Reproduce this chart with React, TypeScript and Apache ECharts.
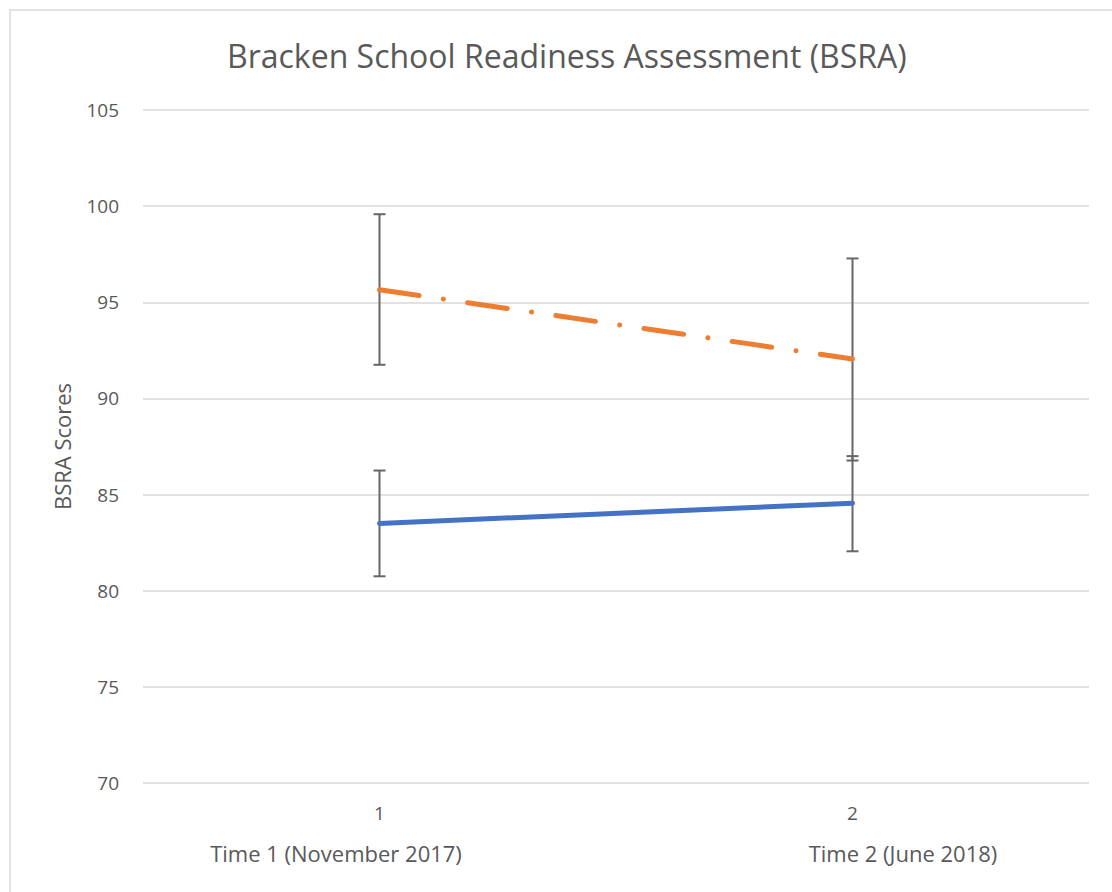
import React, { useEffect, useRef } from "react";
import * as echarts from "echarts";

const categories = ["1", "2"];
const timeLabels = ["Time 1 (November 2017)", "Time 2 (June 2018)"];
const blueMeans = [83.5, 84.55];
const blueLow = [80.75, 82.05];
const blueHigh = [86.25, 87.0];
const orangeMeans = [95.65, 92.05];
const orangeLow = [91.75, 86.77];
const orangeHigh = [99.58, 97.28];
const yTicks = { min: 70, max: 105, interval: 5 };

const FONT = "'Open Sans', 'Noto Sans', sans-serif";
const TEXT = "#595959";

export default function App() {
  const ref = useRef<HTMLDivElement>(null);
  useEffect(() => {
    document.body.style.margin = "0";
    if (!ref.current) return;
    const chart = echarts.init(ref.current, null, { renderer: "svg" });
    const errData = [
      ...categories.map((_, i) => [i, blueLow[i], blueHigh[i]]),
      ...categories.map((_, i) => [i, orangeLow[i], orangeHigh[i]]),
    ];
    chart.setOption({
      animation: false,
      backgroundColor: "#ffffff",
      title: {
        text: "Bracken School Readiness Assessment (BSRA)",
        left: 222,
        top: 34,
        textStyle: { fontFamily: FONT, fontSize: 32, fontWeight: "normal", color: TEXT },
      },
      grid: { left: 143, right: 23, top: 110, bottom: 109 },
      xAxis: {
        type: "category",
        data: categories,
        boundaryGap: true,
        axisLine: { show: false },
        axisTick: { show: false },
        axisLabel: { fontFamily: FONT, fontSize: 19, color: TEXT, margin: 20 },
      },
      yAxis: {
        type: "value",
        min: yTicks.min,
        max: yTicks.max,
        interval: yTicks.interval,
        name: "BSRA Scores",
        nameLocation: "middle",
        nameRotate: 90,
        nameGap: 70,
        nameTextStyle: { fontFamily: FONT, fontSize: 22, color: TEXT },
        axisLine: { show: false },
        axisTick: { show: false },
        axisLabel: { fontFamily: FONT, fontSize: 19, color: TEXT, margin: 24 },
        splitLine: { lineStyle: { color: "#d9d9d9", width: 1.5 } },
      },
      graphic: [
        {
          type: "rect",
          shape: { x: 10, y: 10, width: 1200, height: 1000 },
          style: { fill: "none", stroke: "#d9d9d9", lineWidth: 1.5 },
          silent: true,
        },
        {
          type: "text",
          x: 336,
          y: 853,
          style: { text: timeLabels[0], fontFamily: FONT, fontSize: 22, fill: TEXT, align: "center", verticalAlign: "middle" },
        },
        {
          type: "text",
          x: 903,
          y: 853,
          style: { text: timeLabels[1], fontFamily: FONT, fontSize: 22, fill: TEXT, align: "center", verticalAlign: "middle" },
        },
      ],
      series: [
        {
          type: "custom",
          z: 1,
          data: errData,
          renderItem: (params: any, api: any) => {
            const x = api.value(0);
            const lo = api.coord([x, api.value(1)]);
            const hi = api.coord([x, api.value(2)]);
            const w = 6;
            const style = { stroke: "#666666", lineWidth: 2 };
            return {
              type: "group",
              children: [
                { type: "line", shape: { x1: lo[0], y1: lo[1], x2: hi[0], y2: hi[1] }, style },
                { type: "line", shape: { x1: lo[0] - w, y1: lo[1], x2: lo[0] + w, y2: lo[1] }, style },
                { type: "line", shape: { x1: hi[0] - w, y1: hi[1], x2: hi[0] + w, y2: hi[1] }, style },
              ],
            };
          },
        },
        {
          type: "line",
          z: 3,
          data: blueMeans,
          symbol: "none",
          lineStyle: { color: "#4472C4", width: 5, cap: "round" },
        },
        {
          type: "line",
          z: 3,
          data: orangeMeans,
          symbol: "none",
          lineStyle: { color: "#ED7D31", width: 5, cap: "round", type: [40, 24.5, 0.1, 24.5] },
        },
      ],
    });
    return () => chart.dispose();
  }, []);
  return <div ref={ref} style={{ width: 1112, height: 892 }} />;
}
